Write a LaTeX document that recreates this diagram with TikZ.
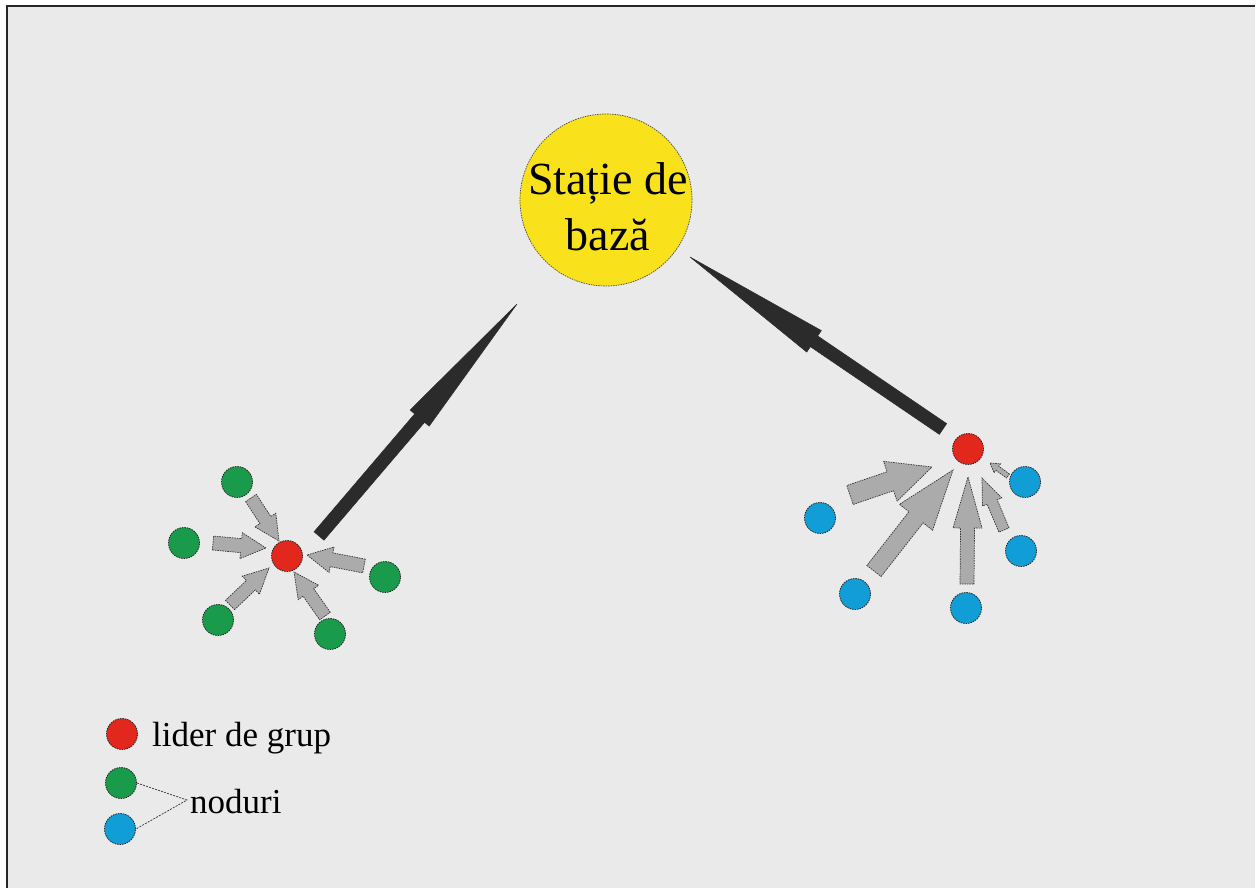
\documentclass[tikz,border=0pt]{standalone}
\usepackage{fontspec}
\setmainfont{Liberation Serif}
\definecolor{bgc}{HTML}{EAEAEA}
\definecolor{ledred}{HTML}{E2271C}
\definecolor{nodegreen}{HTML}{1A9A4B}
\definecolor{nodeblue}{HTML}{119DD6}
\definecolor{bsyellow}{HTML}{F9E11B}
\definecolor{arrgray}{HTML}{ABABAB}
\definecolor{arrblack}{HTML}{2B2B2B}
% block arrow: tail x,y ; tip x,y ; shaft half width ; head half width ; head length ; style
\newcommand\blockarr[8]{%
\pgfmathsetmacro\baDX{#3-#1}\pgfmathsetmacro\baDY{#4-#2}%
\pgfmathsetmacro\baLEN{veclen(\baDX,\baDY)}%
\pgfmathsetmacro\baUX{\baDX/\baLEN}\pgfmathsetmacro\baUY{\baDY/\baLEN}%
\pgfmathsetmacro\baBX{#3-\baUX*#7}\pgfmathsetmacro\baBY{#4-\baUY*#7}%
\draw[#8] ({#1-\baUY*#5},{#2+\baUX*#5}) -- ({\baBX-\baUY*#5},{\baBY+\baUX*#5}) -- ({\baBX-\baUY*#6},{\baBY+\baUX*#6}) -- (#3,#4) -- ({\baBX+\baUY*#6},{\baBY-\baUX*#6}) -- ({\baBX+\baUY*#5},{\baBY-\baUX*#5}) -- ({#1+\baUY*#5},{#2-\baUX*#5}) -- cycle;}
\tikzset{
  dot/.style={circle, inner sep=0pt, minimum size=31pt, draw=black!85, line width=0.8pt, dash pattern=on 1.5pt off 1pt},
  leader/.style={dot, fill=ledred},
  greennode/.style={dot, fill=nodegreen},
  bluenode/.style={dot, fill=nodeblue},
  grayarrow/.style={fill=arrgray, draw=black!80, line width=0.7pt, dash pattern=on 1.5pt off 1pt},
  blackarrow/.style={fill=arrblack, draw=arrblack, line width=0.5pt},
  legtext/.style={anchor=base west, inner sep=0pt, font=\fontsize{35}{40}\selectfont},
}
\begin{document}
\begin{tikzpicture}[x=1pt,y=-1pt]
\useasboundingbox (0,0) rectangle (1259,888);
\fill[bgc] (7,6) rectangle (1255,888);
\draw[line width=2pt, black!85] (7,888) -- (7,6) -- (1255,6);

% base station
\node[circle, inner sep=0pt, minimum size=172pt, fill=bsyellow, draw=black!70, line width=0.7pt, dash pattern=on 1.5pt off 1pt] (bs) at (606,200) {};
\node[align=center, inner sep=0pt, font=\fontsize{46}{56}\selectfont] (bstext) at (608,207) {Stație de\\bază};

% left cluster
\node[leader] (L) at (287,556) {};
\node[greennode] (g1) at (237,482) {};
\node[greennode] (g2) at (184,543) {};
\node[greennode] (g3) at (385,577) {};
\node[greennode] (g4) at (218,620) {};
\node[greennode] (g5) at (330,634) {};
\blockarr{251}{498}{279}{541}{6.5}{12.5}{25}{grayarrow}
\blockarr{213}{543}{266}{548}{7}{13}{25}{grayarrow}
\blockarr{364}{566}{307}{555}{7}{13}{25}{grayarrow}
\blockarr{230}{605}{269}{568}{6.5}{12.5}{25}{grayarrow}
\blockarr{325}{616}{294}{572}{6.5}{12.5}{25}{grayarrow}

% right cluster
\node[leader] (R) at (968,449) {};
\node[bluenode] (b1) at (820,518) {};
\node[bluenode] (b2) at (855,594) {};
\node[bluenode] (b3) at (966,608) {};
\node[bluenode] (b4) at (1021,551) {};
\node[bluenode] (b5) at (1025,482) {};
\blockarr{850}{495}{932}{467}{10}{21}{44}{grayarrow}
\blockarr{874}{571}{953}{470}{9}{21}{60}{grayarrow}
\blockarr{967}{584}{968}{477}{7}{14.5}{51}{grayarrow}
\blockarr{1004}{530}{982}{478}{5.5}{10.5}{26}{grayarrow}
\blockarr{1008}{476}{990}{463}{2.5}{5.5}{9}{grayarrow}

% leader to base station
\blockarr{319}{536}{517}{304}{6.5}{12.5}{150}{blackarrow}
\blockarr{943}{429}{690}{257}{6.5}{13}{150}{blackarrow}

% legend
\node[leader] (legL) at (122,734) {};
\node[greennode] (legG) at (121,783) {};
\node[bluenode] (legB) at (120,829) {};
\node[legtext] (legLt) at (152,746) {lider de grup};
\coordinate (legJ) at (187,800);
\node[legtext, anchor=west] (legNt) at (190,802) {noduri};
\draw[black!80, line width=0.7pt, dash pattern=on 2pt off 1.2pt] (legG.east) -- (legJ) -- (legB.east);
\end{tikzpicture}
\end{document}
